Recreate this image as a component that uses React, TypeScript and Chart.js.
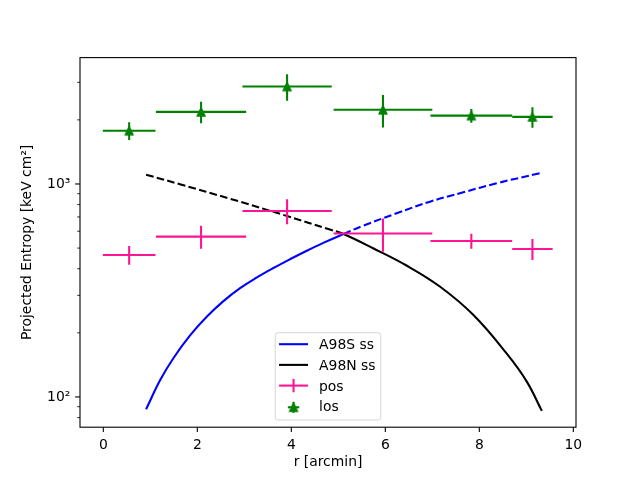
import React, { useEffect, useRef } from 'react';
import { Chart, registerables } from 'chart.js';

Chart.register(...registerables);

// ---------- data ----------
const binCenters = [0.55, 2.08, 3.91, 5.95, 7.83, 9.13];
const binHalfWidths = [0.56, 0.96, 0.95, 1.05, 0.87, 0.43];

const posValues = [464, 566, 747, 585, 540, 495];
const posErrors = [47, 70, 100, 104, 44, 56];

const losValues = [1779, 2180, 2868, 2230, 2094, 2066];
const losErrors = [172, 253, 411, 390, 153, 228];

const a98sX = [0.91, 1.21, 1.49, 1.85, 2.2, 2.55, 2.91, 3.26, 3.62, 3.97, 4.33, 4.68, 5.11, 5.53, 6.24, 6.95, 7.66, 8.37, 9.29];
const a98sY = [87.5, 120, 152, 195, 238, 281, 324, 363, 403, 443, 486, 529, 582, 637, 728, 826, 914, 1008, 1123];

const a98nX = [0.91, 1.63, 2.7, 3.83, 4.82, 5.11, 5.74, 6.46, 7.16, 7.87, 8.58, 9.01, 9.33];
const a98nY = [1106, 997, 852, 716, 611, 582, 499, 413, 330, 243, 160, 118, 86];

const splitX = 5.11;

const xTicks = [0, 2, 4, 6, 8, 10];
const yMajorTicks = [100, 1000];
const yMinorTicks = [80, 90, 200, 300, 400, 500, 600, 700, 800, 900, 2000, 3000];

const X_MIN = -0.496;
const X_MAX = 10.057;
const Y_MIN = 72.1;
const Y_MAX = 3921;

// ---------- styles ----------
const FONT = 'DejaVu Sans';
const FS = 13.9;
const BLUE = '#0000ff';
const BLACK = '#000000';
const PINK = '#ff1493';
const GREEN = '#008000';
const LW = 2.08;
const DASH = [7.7, 3.3];

const POS_INDEX = 2;
const LOS_INDEX = 3;

function makeTriangle(color: string): HTMLCanvasElement {
  const c = document.createElement('canvas');
  c.width = 14;
  c.height = 14;
  const g = c.getContext('2d') as CanvasRenderingContext2D;
  const h = 4.17;
  g.beginPath();
  g.moveTo(7, 7 - h);
  g.lineTo(7 - h, 7 + h);
  g.lineTo(7 + h, 7 + h);
  g.closePath();
  g.fillStyle = color;
  g.fill();
  g.lineWidth = 1.2;
  g.strokeStyle = color;
  g.lineJoin = 'round';
  g.stroke();
  return c;
}

function line(ctx: CanvasRenderingContext2D, x1: number, y1: number, x2: number, y2: number) {
  ctx.beginPath();
  ctx.moveTo(x1, y1);
  ctx.lineTo(x2, y2);
  ctx.stroke();
}

const errorBarPlugin = {
  id: 'errorBars',
  beforeDatasetDraw(chart: any, args: any) {
    let values: number[] | null = null;
    let errs: number[] = [];
    let color = '';
    if (args.index === POS_INDEX) {
      values = posValues; errs = posErrors; color = PINK;
    } else if (args.index === LOS_INDEX) {
      values = losValues; errs = losErrors; color = GREEN;
    }
    if (!values) return;
    const { ctx, chartArea: a, scales } = chart;
    const xs = scales.x;
    const ys = scales.y;
    ctx.save();
    ctx.beginPath();
    ctx.rect(a.left, a.top, a.right - a.left, a.bottom - a.top);
    ctx.clip();
    ctx.strokeStyle = color;
    ctx.lineWidth = LW;
    ctx.lineCap = 'butt';
    for (let i = 0; i < values.length; i++) {
      const px = xs.getPixelForValue(binCenters[i]);
      const py = ys.getPixelForValue(values[i]);
      const x1 = xs.getPixelForValue(binCenters[i] - binHalfWidths[i]);
      const x2 = xs.getPixelForValue(binCenters[i] + binHalfWidths[i]);
      const y1 = ys.getPixelForValue(values[i] - errs[i]);
      const y2 = ys.getPixelForValue(values[i] + errs[i]);
      line(ctx, x1, py, x2, py);
      line(ctx, px, y1, px, y2);
    }
    ctx.restore();
  },
};

const frameTicksPlugin = {
  id: 'frameTicks',
  afterDatasetsDraw(chart: any) {
    const { ctx, chartArea: a, scales } = chart;
    ctx.save();
    ctx.strokeStyle = '#000';
    ctx.lineWidth = 1.1;
    ctx.strokeRect(a.left, a.top, a.right - a.left, a.bottom - a.top);
    xTicks.forEach((v) => {
      const px = scales.x.getPixelForValue(v);
      line(ctx, px, a.bottom, px, a.bottom + 4.86);
    });
    yMajorTicks.forEach((v) => {
      const py = scales.y.getPixelForValue(v);
      line(ctx, a.left - 4.86, py, a.left, py);
    });
    ctx.lineWidth = 0.83;
    yMinorTicks.forEach((v) => {
      const py = scales.y.getPixelForValue(v);
      line(ctx, a.left - 2.78, py, a.left, py);
    });
    ctx.restore();
  },
};

const legendKinds = ['line', 'line', 'errbar', 'errmarker'];

const legendPlugin = {
  id: 'mplLegend',
  afterDraw(chart: any) {
    const { ctx, chartArea: a } = chart;
    const w = 105.5;
    const h = 87.3;
    const cx = (a.left + a.right) / 2;
    const left = cx - w / 2;
    const top = a.bottom - 7.2 - h;
    const r = 2.8;
    ctx.save();
    ctx.beginPath();
    ctx.moveTo(left + r, top);
    ctx.lineTo(left + w - r, top);
    ctx.arcTo(left + w, top, left + w, top + r, r);
    ctx.lineTo(left + w, top + h - r);
    ctx.arcTo(left + w, top + h, left + w - r, top + h, r);
    ctx.lineTo(left + r, top + h);
    ctx.arcTo(left, top + h, left, top + h - r, r);
    ctx.lineTo(left, top + r);
    ctx.arcTo(left, top, left + r, top, r);
    ctx.closePath();
    ctx.fillStyle = 'rgba(255,255,255,0.8)';
    ctx.fill();
    ctx.strokeStyle = 'rgba(204,204,204,0.8)';
    ctx.lineWidth = 1;
    ctx.stroke();

    const hx1 = left + 3.8;
    const hx2 = left + 32.8;
    const hc = (hx1 + hx2) / 2;
    const tx = left + 43.8;
    const tri = chart.$losMarker as HTMLCanvasElement;
    chart.data.datasets.forEach((ds: any, i: number) => {
      const yc = top + 11.5 + i * 20.7;
      const kind = legendKinds[i];
      const color = ds.borderColor as string;
      ctx.strokeStyle = color;
      ctx.lineWidth = LW;
      ctx.setLineDash([]);
      if (kind === 'line') {
        line(ctx, hx1, yc, hx2, yc);
      } else if (kind === 'errbar') {
        line(ctx, hx1, yc, hx2, yc);
        line(ctx, hc, yc - 6.7, hc, yc + 6.7);
      } else {
        line(ctx, hc - 5.7, yc + 1, hc + 5.7, yc + 1);
        line(ctx, hc, yc - 4.5, hc, yc + 6.5);
        if (tri) ctx.drawImage(tri, hc - tri.width / 2, yc + 1 - tri.height / 2);
      }
      ctx.fillStyle = '#000';
      ctx.font = `${FS}px "${FONT}"`;
      ctx.textAlign = 'left';
      ctx.textBaseline = 'alphabetic';
      ctx.fillText(ds.label, tx, yc + 5.1);
    });
    ctx.restore();
  },
};

export default function App() {
  const ref = useRef<HTMLCanvasElement>(null);

  useEffect(() => {
    const canvas = ref.current;
    if (!canvas) return;
    Chart.defaults.font.family = FONT;
    Chart.defaults.font.size = FS;
    Chart.defaults.color = '#000';

    const tri = makeTriangle(GREEN);

    const chart: any = new Chart(canvas, {
      type: 'line',
      data: {
        datasets: [
          {
            label: 'A98S ss',
            data: a98sX.map((x, i) => ({ x, y: a98sY[i] })),
            borderColor: BLUE,
            backgroundColor: BLUE,
            borderWidth: LW,
            pointRadius: 0,
            fill: false,
            tension: 0.4,
            order: 3,
            segment: {
              borderDash: (c: any) => (a98sX[c.p0DataIndex] >= splitX - 1e-6 ? DASH : undefined),
            },
          },
          {
            label: 'A98N ss',
            data: a98nX.map((x, i) => ({ x, y: a98nY[i] })),
            borderColor: BLACK,
            backgroundColor: BLACK,
            borderWidth: LW,
            pointRadius: 0,
            fill: false,
            tension: 0.4,
            order: 3,
            segment: {
              borderDash: (c: any) => (a98nX[c.p1DataIndex] <= splitX + 1e-6 ? DASH : undefined),
            },
          },
          {
            label: 'pos',
            data: binCenters.map((x, i) => ({ x, y: posValues[i] })),
            borderColor: PINK,
            backgroundColor: PINK,
            showLine: false,
            pointRadius: 0,
            order: 2,
          },
          {
            label: 'los',
            data: binCenters.map((x, i) => ({ x, y: losValues[i] })),
            borderColor: GREEN,
            backgroundColor: GREEN,
            showLine: false,
            pointStyle: tri as any,
            pointRadius: 5,
            order: 1,
          },
        ],
      } as any,
      options: {
        animation: false,
        responsive: false,
        events: [],
        layout: { padding: { left: 0, right: 64, top: 57.6, bottom: 0 } },
        plugins: {
          legend: { display: false },
          tooltip: { enabled: false },
          title: { display: false },
        },
        scales: {
          x: {
            type: 'linear',
            min: X_MIN,
            max: X_MAX,
            bounds: 'data',
            grid: { display: false, drawTicks: false },
            border: { display: false },
            ticks: {
              padding: 9.7,
              color: '#000',
              font: { family: FONT, size: FS },
              autoSkip: false,
              maxRotation: 0,
              minRotation: 0,
              callback: (v: any) => String(v),
            },
            afterBuildTicks: (s: any) => {
              s.ticks = xTicks.map((v) => ({ value: v }));
            },
            afterFit: (s: any) => {
              s.height = 52.8;
            },
            title: {
              display: true,
              text: 'r [arcmin]',
              color: '#000',
              font: { family: FONT, size: FS },
              padding: { top: 0, bottom: 9 },
            },
          },
          y: {
            type: 'logarithmic',
            min: Y_MIN,
            max: Y_MAX,
            bounds: 'data',
            grid: { display: false, drawTicks: false },
            border: { display: false },
            ticks: {
              padding: 9.7,
              color: '#000',
              font: { family: FONT, size: FS },
              autoSkip: false,
              callback: (v: any) => (v === 100 ? '10²' : v === 1000 ? '10³' : ''),
            },
            afterBuildTicks: (s: any) => {
              s.ticks = [...yMinorTicks, ...yMajorTicks]
                .sort((p, q) => p - q)
                .map((v) => ({ value: v }));
            },
            afterFit: (s: any) => {
              s.width = 80;
            },
            title: {
              display: true,
              text: 'Projected Entropy [keV cm²]',
              color: '#000',
              font: { family: FONT, size: FS },
              padding: { top: 19.2, bottom: 0 },
            },
          },
        },
      } as any,
      plugins: [errorBarPlugin, frameTicksPlugin, legendPlugin],
    });
    chart.$losMarker = tri;
    chart.draw();

    return () => chart.destroy();
  }, []);

  return (
    <div style={{ position: 'absolute', left: 0, top: 0, width: 640, height: 480, background: '#fff' }}>
      <canvas ref={ref} width={640} height={480} style={{ display: 'block', width: 640, height: 480 }} />
    </div>
  );
}
